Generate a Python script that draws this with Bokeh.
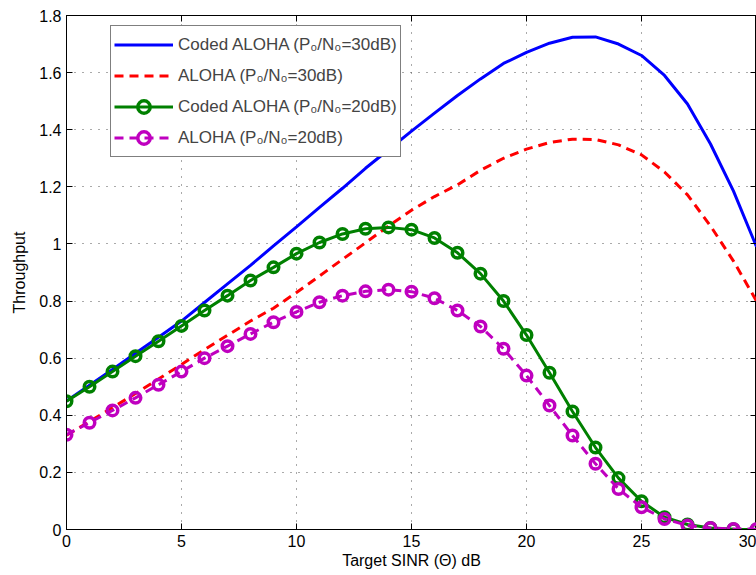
from bokeh.plotting import figure
from bokeh.models import (LinearAxis, FixedTicker, Legend, LegendItem, Range1d,
                          CustomLabelingPolicy)
from bokeh.embed import file_html
from bokeh.resources import INLINE

# ---- data ----
snr_db = list(range(0, 31))
coded_aloha_30 = [0.45, 0.505, 0.56, 0.617, 0.673, 0.73, 0.795, 0.86, 0.925, 0.993,
                  1.06, 1.128, 1.195, 1.265, 1.33, 1.395, 1.458, 1.52, 1.578, 1.632,
                  1.671, 1.703, 1.724, 1.725, 1.70, 1.66, 1.59, 1.49, 1.35, 1.185, 0.99]
aloha_30 = [0.33, 0.378, 0.427, 0.476, 0.527, 0.578, 0.63, 0.68, 0.73, 0.775,
            0.83, 0.888, 0.946, 1.004, 1.063, 1.118, 1.166, 1.207, 1.258, 1.30,
            1.332, 1.355, 1.367, 1.366, 1.347, 1.312, 1.252, 1.172, 1.063, 0.94, 0.80]
coded_aloha_20 = [0.449, 0.50, 0.553, 0.607, 0.659, 0.713, 0.767, 0.819, 0.872, 0.918,
                  0.966, 1.005, 1.035, 1.053, 1.058, 1.05, 1.021, 0.969, 0.896, 0.80,
                  0.681, 0.549, 0.413, 0.287, 0.18, 0.099, 0.043, 0.0175, 0.005, 0.001, 0.0]
aloha_20 = [0.332, 0.374, 0.417, 0.461, 0.507, 0.553, 0.60, 0.642, 0.685, 0.726,
            0.762, 0.796, 0.819, 0.834, 0.84, 0.833, 0.81, 0.767, 0.711, 0.633,
            0.539, 0.434, 0.329, 0.23, 0.142, 0.078, 0.037, 0.014, 0.005, 0.002, 0.001]

series_labels = ["Coded ALOHA (P\u2080/N\u2080=30dB)", "ALOHA (P\u2080/N\u2080=30dB)",
                 "Coded ALOHA (P\u2080/N\u2080=20dB)", "ALOHA (P\u2080/N\u2080=20dB)"]

x_ticks = [0, 5, 10, 15, 20, 25, 30]
x_tick_labels = ["0", "5", "10", "15", "20", "25", "30"]
y_ticks = [0, 0.2, 0.4, 0.6, 0.8, 1.0, 1.2, 1.4, 1.6, 1.8]
y_tick_labels = ["0", "0.2", "0.4", "0.6", "0.8", "1", "1.2", "1.4", "1.6", "1.8"]

FONT = "Liberation Sans"
FS = "16px"

p = figure(width=756, height=575, x_range=Range1d(0, 30), y_range=Range1d(0, 1.8),
           output_backend="svg", toolbar_location=None,
           min_border_left=66, min_border_right=0, min_border_top=15, min_border_bottom=46,
           x_axis_label="Target SINR (\u0398) dB", y_axis_label="Throughput")
p.background_fill_color = "white"
p.border_fill_color = "white"
p.outline_line_color = "black"
p.outline_line_width = 1

for ax, ticks, labels in ((p.xaxis[0], x_ticks, x_tick_labels), (p.yaxis[0], y_ticks, y_tick_labels)):
    ax.ticker = FixedTicker(ticks=ticks)
    ax.major_label_overrides = {t: l for t, l in zip(ticks, labels)}
    ax.major_tick_in = 6
    ax.major_tick_out = 0
    ax.minor_tick_in = 0
    ax.minor_tick_out = 0
    ax.major_label_text_font = FONT
    ax.major_label_text_font_size = FS
    ax.major_label_text_color = "black"
    ax.axis_label_text_font = FONT
    ax.axis_label_text_font_size = FS
    ax.axis_label_text_font_style = "normal"
    ax.axis_label_text_color = "black"
    ax.axis_line_color = "black"
    ax.major_tick_line_color = "black"
p.xaxis[0].major_label_standoff = 5
p.xaxis[0].axis_label_standoff = 2
p.yaxis[0].major_label_standoff = 5
p.yaxis[0].axis_label_standoff = 8

hide_all = "const idx = [...indices]; for (const i of idx) indices.unset(i); return indices"
for loc, ticks in (("above", x_ticks), ("right", y_ticks)):
    ax = LinearAxis(ticker=FixedTicker(ticks=ticks), major_label_text_font_size="0px",
                    major_label_policy=CustomLabelingPolicy(code=hide_all),
                    major_tick_in=6, major_tick_out=0, minor_tick_in=0, minor_tick_out=0,
                    major_label_standoff=0, axis_line_color="black",
                    major_tick_line_color="black")
    p.add_layout(ax, loc)

for g in (p.xgrid[0], p.ygrid[0]):
    g.grid_line_color = "#555555"
    g.grid_line_dash = "1 7"
    g.grid_line_width = 1
p.xgrid[0].ticker = FixedTicker(ticks=x_ticks)
p.ygrid[0].ticker = FixedTicker(ticks=y_ticks)

r_blue = p.line(snr_db, coded_aloha_30, line_color="#0000ff", line_width=3)
r_red = p.line(snr_db, aloha_30, line_color="#ff0000", line_width=3, line_dash="9 6")
r_green_l = p.line(snr_db, coded_aloha_20, line_color="#008000", line_width=3)
r_green_m = p.scatter(snr_db, coded_aloha_20, marker="circle", size=10.5, line_color="#008000",
                      line_width=3.5, fill_color=None)
r_mag_l = p.line(snr_db, aloha_20, line_color="#bf00bf", line_width=3, line_dash="9 6")
r_mag_m = p.scatter(snr_db, aloha_20, marker="circle", size=10.5, line_color="#bf00bf",
                    line_width=3.5, fill_color=None)

legend = Legend(items=[
    LegendItem(label=series_labels[0], renderers=[r_blue]),
    LegendItem(label=series_labels[1], renderers=[r_red]),
    LegendItem(label=series_labels[2], renderers=[r_green_l, r_green_m]),
    LegendItem(label=series_labels[3], renderers=[r_mag_l, r_mag_m]),
], location=(44, 372), padding=3, spacing=0, glyph_width=59, glyph_height=31,
    label_standoff=5, label_text_font=FONT, label_text_font_size="17px",
    border_line_color="black", border_line_width=1, background_fill_color="white",
    background_fill_alpha=1, margin=0)
p.add_layout(legend)

open("out.html", "w").write(file_html(p, INLINE))
